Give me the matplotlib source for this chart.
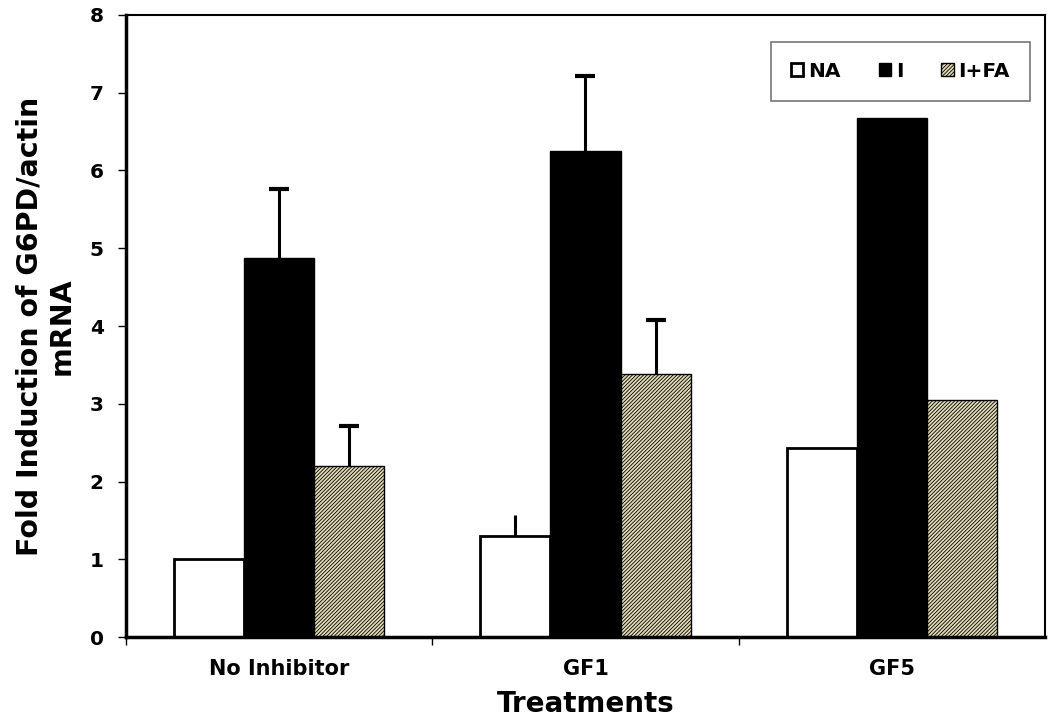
import numpy as np
import matplotlib
matplotlib.use('Agg')
import matplotlib.pyplot as plt

plt.rcParams['font.family'] = ['DejaVu Sans']
plt.rcParams['font.weight'] = 'bold'
plt.rcParams['hatch.linewidth'] = 0.6

# data
treatments = ['No Inhibitor', 'GF1', 'GF5']
series = ['NA', 'I', 'I+FA']
na_vals = [1.00, 1.30, 2.43]
i_vals = [4.87, 6.25, 6.67]
ifa_vals = [2.20, 3.38, 3.05]
na_err = [0.0, 0.27, 0.0]
i_err = [0.89, 0.96, 0.0]
ifa_err = [0.52, 0.70, 0.0]

fig = plt.figure(figsize=(10.57, 7.23), dpi=100)
ax = fig.add_axes([0.1192, 0.1189, 0.8694, 0.8604])

x = np.arange(len(treatments))
w = 0.229

ax.bar(x - w, na_vals, w, color='white', edgecolor='black', linewidth=2, label=series[0], zorder=2)
ax.bar(x, i_vals, w, color='black', edgecolor='black', linewidth=1, label=series[1], zorder=2)
ax.bar(x + w, ifa_vals, w, color='#e2ddb8', edgecolor='black', hatch='/////////',
       linewidth=1, label=series[2], zorder=2)

# error bars, upper side only
for xs, vals, errs, cap in [(x - w, na_vals, na_err, 0), (x, i_vals, i_err, 7), (x + w, ifa_vals, ifa_err, 7)]:
    for xi, v, e in zip(xs, vals, errs):
        if e > 0:
            eb = ax.errorbar(xi, v, yerr=[[0], [e]], fmt='none', ecolor='black',
                             elinewidth=2.2, capsize=cap, capthick=3, zorder=3)
            if len(eb[1]) == 2:
                eb[1][0].set_visible(False)

ax.set_xlim(-0.5, 2.5)
ax.set_ylim(0, 8)
ax.set_yticks(range(0, 9))
ax.tick_params(axis='y', direction='out', length=6, width=1, labelsize=14.5, pad=10)

ax.set_xticks([-0.5, 0.5, 1.5])
ax.set_xticklabels([])
ax.tick_params(axis='x', which='major', direction='out', length=6, width=1)
ax.set_xticks(x, minor=True)
ax.set_xticklabels(treatments, minor=True, fontsize=15, fontweight='bold')
ax.tick_params(axis='x', which='minor', length=0, pad=16)
for lab in ax.get_yticklabels():
    lab.set_fontweight('bold')

for s in ['left', 'bottom']:
    ax.spines[s].set_linewidth(2.5)
for s in ['top', 'right']:
    ax.spines[s].set_linewidth(1.5)

ax.set_ylabel('Fold Induction of G6PD/actin\nmRNA', fontsize=20.5, fontweight='bold', labelpad=10)
ax.set_xlabel('Treatments', fontsize=20, fontweight='bold', labelpad=8)

leg = ax.legend(ncol=3, loc='upper right', bbox_to_anchor=(0.984, 0.957), frameon=True,
                fancybox=False, edgecolor='#555555', handlelength=0.6, handleheight=0.6,
                handletextpad=0.25, columnspacing=1.9, borderpad=1.0, borderaxespad=0,
                prop={'weight': 'bold', 'size': 14.5})
leg.get_frame().set_linewidth(1.2)

fig.savefig('out.png', dpi=100)
